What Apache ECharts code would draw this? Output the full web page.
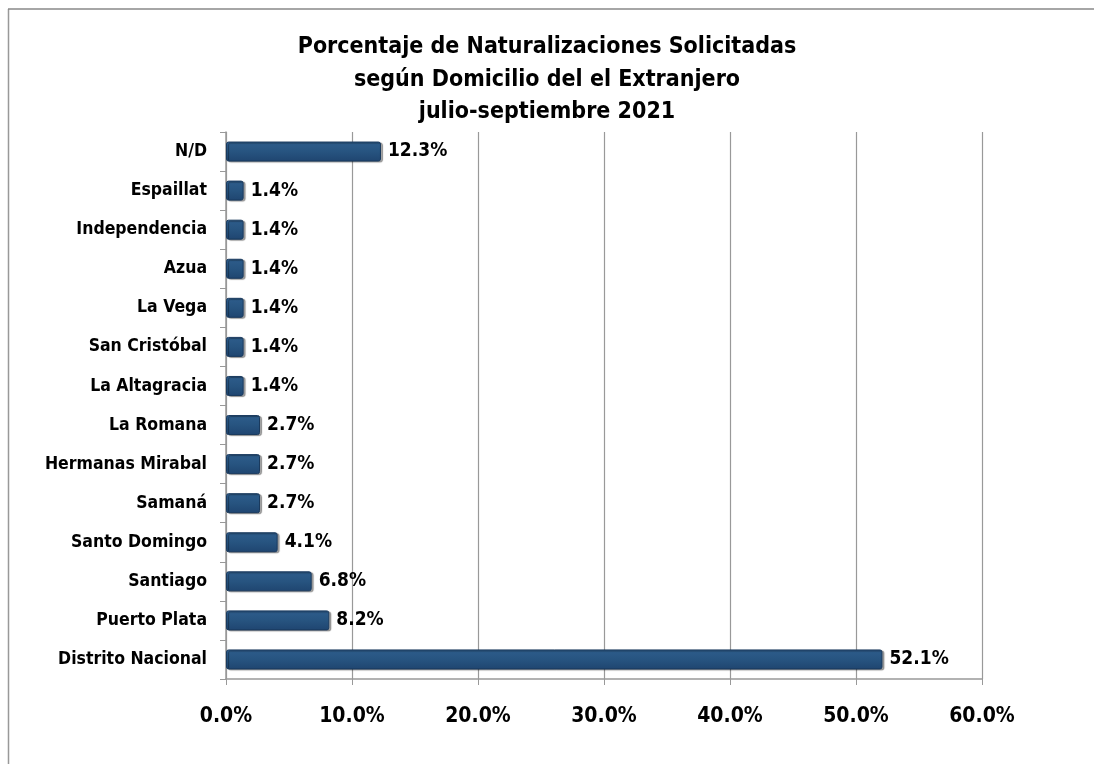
<!DOCTYPE html>
<html>
<head>
<meta charset="utf-8">
<script src="https://cdn.jsdelivr.net/npm/echarts@6/dist/echarts.min.js"></script>
<style>
html,body{margin:0;padding:0;background:#fff;}
#main{width:1094px;height:764px;}
</style>
</head>
<body>
<div id="main"></div>
<script>
var titleLines = ['Porcentaje de Naturalizaciones Solicitadas', 'según Domicilio del el Extranjero', 'julio-septiembre 2021'];
var categories = ['Distrito Nacional', 'Puerto Plata', 'Santiago', 'Santo Domingo', 'Samaná', 'Hermanas Mirabal', 'La Romana', 'La Altagracia', 'San Cristóbal', 'La Vega', 'Azua', 'Independencia', 'Espaillat', 'N/D'];
var values = [52.1, 8.2, 6.8, 4.1, 2.7, 2.7, 2.7, 1.4, 1.4, 1.4, 1.4, 1.4, 1.4, 12.3];
var xTicks = [0, 10, 20, 30, 40, 50, 60];

var FONT = '"DejaVu Sans Condensed", "DejaVu Sans", sans-serif';
var chart = echarts.init(document.getElementById('main'));
chart.setOption({
  animation: false,
  title: {
    text: titleLines.join('\n'),
    left: 'center',
    top: 26,
    textStyle: {fontFamily: FONT, fontWeight: 'bold', fontSize: 23, lineHeight: 32.5, color: '#000'}
  },
  graphic: [
    {type: 'line', shape: {x1: 8.5, y1: 9, x2: 8.5, y2: 764}, style: {stroke: '#999', lineWidth: 1.5}},
    {type: 'line', shape: {x1: 8, y1: 9, x2: 1094, y2: 9}, style: {stroke: '#888', lineWidth: 1.5}}
  ],
  grid: {left: 226, right: 112, top: 132, bottom: 85},
  xAxis: {
    type: 'value',
    min: xTicks[0],
    max: xTicks[xTicks.length - 1],
    interval: 10,
    axisLine: {show: true, lineStyle: {color: '#999', width: 1.5}},
    axisTick: {show: true, length: 6, lineStyle: {color: '#999'}},
    splitLine: {show: true, lineStyle: {color: '#999', width: 1.2}},
    axisLabel: {
      formatter: function (v) { return v.toFixed(1) + '%'; },
      fontFamily: FONT, fontWeight: 'bold', fontSize: 21, color: '#000', margin: 27
    }
  },
  yAxis: {
    type: 'category',
    data: categories,
    axisLine: {show: true, lineStyle: {color: '#999', width: 1.5}},
    axisTick: {show: true, length: 6, lineStyle: {color: '#999'}},
    axisLabel: {fontFamily: FONT, fontWeight: 'bold', fontSize: 17.5, color: '#000', margin: 19}
  },
  series: [{
    type: 'bar',
    data: values,
    barWidth: 20,
    itemStyle: {
      color: new echarts.graphic.LinearGradient(0, 0, 0, 1, [
        {offset: 0, color: '#2e5d8c'},
        {offset: 0.5, color: '#275480'},
        {offset: 1, color: '#1f4570'}
      ]),
      borderColor: '#1a3a5e',
      borderWidth: 1,
      borderRadius: 2,
      shadowColor: 'rgba(0,0,0,0.35)',
      shadowOffsetX: 2,
      shadowOffsetY: 1,
      shadowBlur: 1
    },
    label: {
      show: true,
      position: 'right',
      distance: 7,
      formatter: function (p) { return p.value.toFixed(1) + '%'; },
      fontFamily: FONT, fontWeight: 'bold', fontSize: 19, color: '#000'
    }
  }]
});
</script>
</body>
</html>
